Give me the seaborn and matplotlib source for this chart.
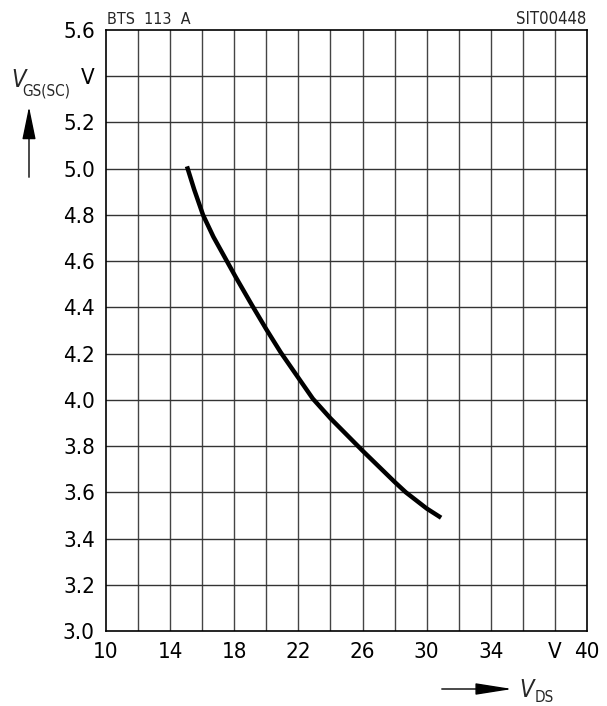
import matplotlib
matplotlib.use("Agg")
import matplotlib.pyplot as plt
import seaborn as sns
import pandas as pd

# Short-circuit gate-source voltage versus drain-source voltage (BTS 113 A)
v_ds = [15.05, 15.5, 16.05, 16.7, 17.5, 18.1, 19.1, 20.0, 20.9, 22.0, 22.9,
        24.0, 26.0, 28.0, 28.7, 30.0, 30.9]
v_gs_sc = [5.01, 4.91, 4.80, 4.705, 4.605, 4.53, 4.41, 4.305, 4.205, 4.095,
           4.005, 3.92, 3.78, 3.645, 3.60, 3.53, 3.49]

x_ticks = [10, 14, 18, 22, 26, 30, 34, 38, 40]
x_labels = ["10", "14", "18", "22", "26", "30", "34", "V", "40"]
y_ticks = [3.0, 3.2, 3.4, 3.6, 3.8, 4.0, 4.2, 4.4, 4.6, 4.8, 5.0, 5.2, 5.4, 5.6]
y_labels = ["3.0", "3.2", "3.4", "3.6", "3.8", "4.0", "4.2", "4.4", "4.6",
            "4.8", "5.0", "5.2", "V", "5.6"]

sns.set_style("white")
plt.rcParams["font.family"] = ["Liberation Sans Narrow", "DejaVu Sans"]
plt.rcParams["font.stretch"] = "condensed"

W, H = 607, 706
fig = plt.figure(figsize=(W / 100, H / 100), dpi=100)
ax = fig.add_axes([106 / W, 1 - 631 / H, 481 / W, 601 / H])

df = pd.DataFrame({"VDS": v_ds, "VGS": v_gs_sc})
sns.lineplot(data=df, x="VDS", y="VGS", ax=ax, color="black", linewidth=3.2,
             sort=False, estimator=None, solid_capstyle="butt",
             solid_joinstyle="round")

ax.set_xlim(10, 40)
ax.set_ylim(3.0, 5.6)

# grid every 2 V horizontally and 0.2 V vertically
for gx in range(12, 40, 2):
    ax.axvline(gx, color="#444444", linewidth=1.0, zorder=0)
for i in range(1, 13):
    ax.axhline(3.0 + 0.2 * i, color="#333333", linewidth=1.0, zorder=0)

ax.set_xticks(x_ticks)
ax.set_xticklabels(x_labels)
ax.set_yticks(y_ticks)
ax.set_yticklabels(y_labels)
ax.tick_params(axis="both", length=0, labelsize=16, colors="black")
ax.tick_params(axis="x", pad=8)
ax.tick_params(axis="y", pad=8)
ax.set_xlabel("")
ax.set_ylabel("")
for s in ax.spines.values():
    s.set_color("black")
    s.set_linewidth(1.2)


def px(x, y):
    return x / W, 1 - y / H


fig.text(*px(107, 24), "BTS  113  A", fontsize=11.5, ha="left", va="baseline")
fig.text(*px(586, 24), "SIT00448", fontsize=12, ha="right", va="baseline")

# y-axis quantity and arrow
fig.text(*px(11, 87), "V", fontsize=17, style="italic", ha="left", va="baseline")
fig.text(*px(22, 96), "GS(SC)", fontsize=11, ha="left", va="baseline")
fig.add_artist(matplotlib.patches.FancyArrowPatch(
    px(29, 180), px(29, 104), transform=fig.transFigure,
    arrowstyle="-|>,head_length=1.7,head_width=0.35", color="black",
    linewidth=1.0, mutation_scale=12))

# x-axis quantity and arrow
fig.add_artist(matplotlib.patches.FancyArrowPatch(
    px(439, 689), px(515, 689), transform=fig.transFigure,
    arrowstyle="-|>,head_length=1.9,head_width=0.3", color="black",
    linewidth=1.0, mutation_scale=12))
fig.text(*px(519, 697), "V", fontsize=17, style="italic", ha="left", va="baseline")
fig.text(*px(535, 702), "DS", fontsize=11, ha="left", va="baseline")

fig.savefig("out.png", dpi=100)
